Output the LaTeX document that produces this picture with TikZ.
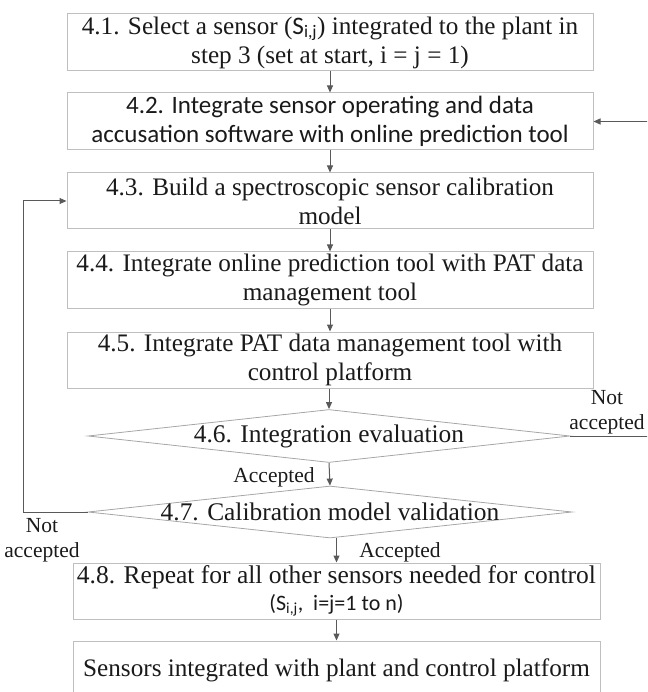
\documentclass[tikz,border=0pt]{standalone}
\usepackage{fontspec}
\setmainfont{Liberation Serif}
\newfontfamily\calfont{Carlito}
\usetikzlibrary{arrows.meta,shapes.geometric}
\definecolor{boxline}{HTML}{BFBFBF}
\definecolor{diamline}{HTML}{A6A6A6}
\definecolor{arrowline}{HTML}{595959}
\definecolor{inktext}{HTML}{1A1A1A}
\newcommand{\Sij}{{\calfont S\textsubscript{i,j}}}
\begin{document}
\begin{tikzpicture}[x=1pt,y=-1pt,
  stepbox/.style={draw=boxline, line width=1pt, minimum width=526pt,
    minimum height=56pt, align=center, inner sep=0pt, text=inktext,
    font=\fontsize{25.2}{29}\selectfont},
  decision/.style={draw=diamline, line width=0.8pt, shape=diamond,
    inner sep=0pt, minimum width=482pt, minimum height=53pt},
  dtext/.style={inner sep=0pt, text=inktext, font=\fontsize{25.4}{29}\selectfont},
  lbl/.style={inner sep=0pt, align=center, text=inktext,
    font=\fontsize{21.5}{25}\selectfont},
  flow/.style={draw=arrowline, line width=1pt,
    -{Triangle[length=7pt,width=6pt]}},
]
\useasboundingbox (0,0) rectangle (647,692);
\begin{scope}
\clip (0,0) rectangle (647,692);

% process steps
\node[stepbox, minimum height=57pt] (b1) at (330,42.5)
  {4.1. Select a sensor (\Sij) integrated to the plant in\\
   step 3 (set at start, i = j = 1)};
\node[stepbox, minimum height=57pt, font=\calfont\fontsize{25}{29}\selectfont] (b2) at (330,121.5)
  {4.2. Integrate sensor operating and data\\
   accusation software with online prediction tool};
\node[stepbox] (b3) at (330,201)
  {4.3. Build a spectroscopic sensor calibration\\ model};
\node[stepbox] (b4) at (330,280)
  {4.4. Integrate online prediction tool with PAT data\\ management tool};
\node[stepbox] (b5) at (330,360)
  {4.5. Integrate PAT data management tool with\\ control platform};

% decisions
\node[decision] (d6) at (329,436) {};
\node[dtext] (t6) at (d6.center) {4.6. Integration evaluation};
\node[decision, minimum width=484pt, minimum height=52pt] (d7) at (330,512) {};
\node[dtext] (t7) at (d7.center) {4.7. Calibration model validation};

\node[stepbox, minimum width=527pt, font=\fontsize{25.5}{27}\selectfont] (b8) at (336.5,591)
  {4.8. Repeat for all other sensors needed for control\\
   {\calfont\fontsize{22}{27}\selectfont (\Sij,\ \ i=j=1 to n)}};
\node[stepbox, minimum width=527pt, minimum height=58pt] (b9) at (336.5,670)
  {Sensors integrated with plant and control platform};

% main flow
\draw[flow] (b1) -- (b2);
\draw[flow] (b2) -- (b3);
\draw[flow] (b3) -- (b4);
\draw[flow] (b4) -- (b5);
\draw[flow] (b5.south -| d6.north) -- (d6.north);
\draw[flow] (d6.south) -- (d7.north);
\draw[flow] (b8.north |- d7.south) -- (b8.north);
\draw[flow] (b8) -- (b9);

% feedback loops
\coordinate (rturn) at (652,436);
\coordinate (lturn) at (23,512);
\draw[flow] (d6.east) -- (rturn) |- (b2.east);
\draw[flow] (d7.west) -- (lturn) |- (b3.west);
\end{scope}

% branch labels
\node[lbl] (na1) at (607,412.5) {Not\\accepted};
\node[lbl] (ac1) at (274,477) {Accepted};
\node[lbl] (na2) at (42,540) {Not\\accepted};
\node[lbl] (ac2) at (400,552) {Accepted};
\end{tikzpicture}
\end{document}
